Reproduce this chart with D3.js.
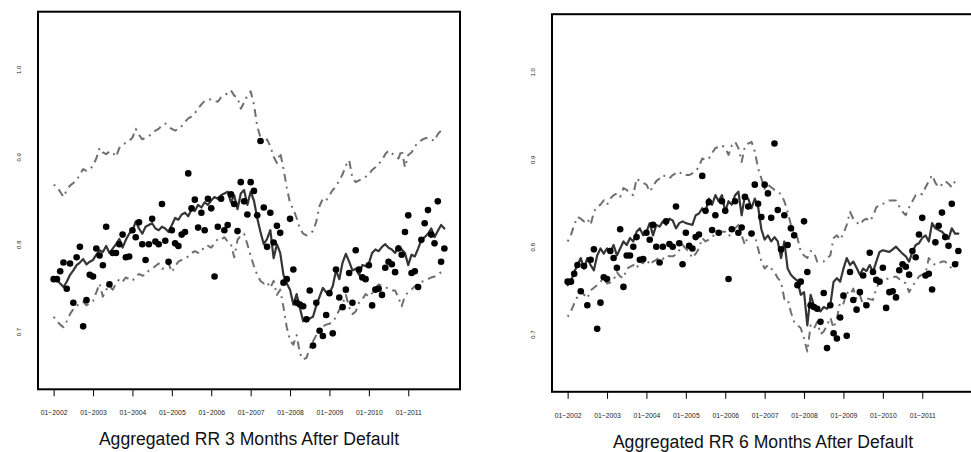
<!DOCTYPE html>
<html>
<head>
<meta charset="utf-8">
<script src="https://cdn.jsdelivr.net/npm/d3@7"></script>
<style>
    body { margin: 0; background: #fff; }
    svg { display: block; font-family: "Liberation Sans", Arial, Helvetica, sans-serif; }
</style>
</head>
<body>
<svg id="chart" width="971" height="452"></svg>
<script>
// months are counted from 01-2002 (index 0) to 12-2011 (index 119)
const xTickMonths = [0, 12, 24, 36, 48, 60, 72, 84, 96, 108];
const xTickLabels = ['01−2002', '01−2003', '01−2004', '01−2005', '01−2006',
                     '01−2007', '01−2008', '01−2009', '01−2010', '01−2011'];
const yTicks = [0.7, 0.8, 0.9, 1.0];
const yTickLabels = ['0.7', '0.8', '0.9', '1.0'];

// observed recovery rates (dots), same in both panels
const observedRR = [
    0.760, 0.760, 0.769, 0.779, 0.749, 0.778, 0.733, 0.785, 0.797, 0.706, 0.736, 0.765,
    0.763, 0.795, 0.787, 0.776, 0.820, 0.754, 0.790, 0.790, 0.800, 0.811, 0.785, 0.786,
    0.816, 0.808, 0.825, 0.800, 0.782, 0.800, 0.829, 0.803, 0.800, 0.846, 0.804, 0.780,
    0.816, 0.801, 0.798, 0.811, 0.814, 0.881, 0.841, 0.851, 0.819, 0.836, 0.816, 0.852,
    0.841, 0.763, 0.820, 0.852, 0.816, 0.822, 0.857, 0.846, 0.815, 0.871, 0.849, 0.834,
    0.871, 0.861, 0.833, 0.918, 0.842, 0.797, 0.836, 0.802, 0.821, 0.813, 0.756, 0.760,
    0.829, 0.771, 0.733, 0.731, 0.729, 0.714, 0.747, 0.684, 0.733, 0.701, 0.695, 0.719,
    0.744, 0.698, 0.771, 0.739, 0.728, 0.748, 0.767, 0.733, 0.793, 0.771, 0.762, 0.760,
    0.776, 0.730, 0.748, 0.749, 0.742, 0.773, 0.780, 0.777, 0.768, 0.795, 0.788, 0.814,
    0.833, 0.767, 0.769, 0.751, 0.805, 0.824, 0.839, 0.811, 0.801, 0.849, 0.780, 0.795
];

// 3 months after default
const model3M = [
    0.761, 0.759, 0.755, 0.751, 0.757, 0.765, 0.770, 0.776, 0.779, 0.783, 0.777, 0.780,
    0.782, 0.788, 0.793, 0.791, 0.798, 0.790, 0.795, 0.800, 0.806, 0.796, 0.805, 0.812,
    0.815, 0.826, 0.818, 0.812, 0.820, 0.822, 0.824, 0.818, 0.816, 0.820, 0.818, 0.814,
    0.822, 0.830, 0.828, 0.834, 0.836, 0.832, 0.840, 0.838, 0.845, 0.842, 0.848, 0.845,
    0.850, 0.854, 0.852, 0.856, 0.858, 0.860, 0.848, 0.856, 0.840, 0.858, 0.862, 0.845,
    0.860, 0.850, 0.830, 0.814, 0.800, 0.806, 0.816, 0.784, 0.800, 0.790, 0.765, 0.755,
    0.748, 0.731, 0.743, 0.727, 0.712, 0.713, 0.715, 0.717, 0.730, 0.740, 0.750, 0.745,
    0.744, 0.752, 0.770, 0.760, 0.779, 0.789, 0.780, 0.770, 0.772, 0.765, 0.776, 0.775,
    0.778, 0.790, 0.794, 0.792, 0.797, 0.800, 0.796, 0.794, 0.790, 0.798, 0.794, 0.790,
    0.776, 0.788, 0.786, 0.795, 0.805, 0.808, 0.812, 0.818, 0.808, 0.815, 0.822, 0.818
];
const upper3M = [
    0.868, 0.866, 0.860, 0.854, 0.862, 0.867, 0.870, 0.873, 0.880, 0.886, 0.884, 0.885,
    0.890, 0.898, 0.910, 0.905, 0.903, 0.906, 0.905, 0.900, 0.910, 0.914, 0.916, 0.918,
    0.922, 0.932, 0.925, 0.920, 0.922, 0.924, 0.926, 0.930, 0.932, 0.936, 0.938, 0.934,
    0.932, 0.930, 0.932, 0.935, 0.940, 0.944, 0.946, 0.950, 0.955, 0.960, 0.964, 0.965,
    0.966, 0.964, 0.963, 0.968, 0.970, 0.973, 0.976, 0.970, 0.968, 0.955, 0.962, 0.970,
    0.975, 0.960, 0.935, 0.922, 0.915, 0.920, 0.912, 0.900, 0.893, 0.905, 0.886, 0.865,
    0.847, 0.840, 0.830, 0.818, 0.812, 0.810, 0.812, 0.815, 0.826, 0.844, 0.852, 0.850,
    0.856, 0.862, 0.866, 0.873, 0.880, 0.890, 0.896, 0.876, 0.871, 0.873, 0.875, 0.877,
    0.880, 0.885, 0.888, 0.892, 0.896, 0.903, 0.907, 0.904, 0.901, 0.898, 0.908, 0.888,
    0.902, 0.905, 0.912, 0.916, 0.919, 0.921, 0.922, 0.920, 0.918, 0.926, 0.930, 0.933
];
const lower3M = [
    0.717, 0.712, 0.708, 0.705, 0.712, 0.720, 0.726, 0.729, 0.733, 0.734, 0.730, 0.733,
    0.735, 0.745, 0.755, 0.740, 0.748, 0.752, 0.748, 0.755, 0.760, 0.757, 0.762, 0.760,
    0.758, 0.763, 0.766, 0.764, 0.765, 0.770, 0.772, 0.775, 0.778, 0.772, 0.773, 0.778,
    0.768, 0.775, 0.780, 0.782, 0.784, 0.786, 0.790, 0.792, 0.790, 0.795, 0.794, 0.798,
    0.796, 0.801, 0.806, 0.805, 0.808, 0.803, 0.800, 0.785, 0.805, 0.810, 0.812, 0.800,
    0.787, 0.775, 0.765, 0.758, 0.755, 0.757, 0.750, 0.758, 0.742, 0.748, 0.728, 0.705,
    0.690, 0.685, 0.696, 0.675, 0.668, 0.670, 0.681, 0.689, 0.696, 0.704, 0.706, 0.708,
    0.709, 0.711, 0.717, 0.725, 0.732, 0.742, 0.728, 0.720, 0.723, 0.733, 0.737, 0.743,
    0.740, 0.744, 0.750, 0.754, 0.752, 0.751, 0.749, 0.747, 0.747, 0.739, 0.729, 0.741,
    0.745, 0.748, 0.752, 0.755, 0.757, 0.758, 0.760, 0.762, 0.763, 0.765, 0.768, 0.770
];

// 6 months after default
const model6M = [
    0.756, 0.760, 0.771, 0.779, 0.787, 0.775, 0.787, 0.779, 0.773, 0.790, 0.798, 0.792,
    0.798, 0.794, 0.802, 0.790, 0.798, 0.806, 0.802, 0.810, 0.806, 0.817, 0.821, 0.813,
    0.817, 0.827, 0.813, 0.825, 0.823, 0.829, 0.825, 0.832, 0.830, 0.821, 0.827, 0.829,
    0.827, 0.826, 0.825, 0.836, 0.838, 0.844, 0.840, 0.855, 0.848, 0.859, 0.852, 0.859,
    0.840, 0.852, 0.848, 0.859, 0.863, 0.836, 0.859, 0.855, 0.844, 0.855, 0.846, 0.820,
    0.808, 0.813, 0.806, 0.811, 0.806, 0.787, 0.806, 0.775, 0.768, 0.764, 0.761, 0.745,
    0.748, 0.710, 0.745, 0.733, 0.730, 0.726, 0.731, 0.729, 0.733, 0.760, 0.764, 0.760,
    0.775, 0.787, 0.779, 0.783, 0.776, 0.768, 0.775, 0.772, 0.779, 0.771, 0.783, 0.794,
    0.796, 0.795, 0.794, 0.797, 0.800, 0.796, 0.792, 0.789, 0.783, 0.794, 0.802, 0.804,
    0.810, 0.813, 0.806, 0.827, 0.821, 0.819, 0.817, 0.813, 0.809, 0.821, 0.815, 0.815
];
const upper6M = [
    0.806, 0.813, 0.825, 0.834, 0.832, 0.829, 0.832, 0.825, 0.840, 0.846, 0.848, 0.853,
    0.848, 0.855, 0.859, 0.861, 0.857, 0.867, 0.865, 0.861, 0.859, 0.878, 0.875, 0.873,
    0.871, 0.863, 0.869, 0.875, 0.878, 0.882, 0.880, 0.878, 0.882, 0.884, 0.886, 0.882,
    0.882, 0.882, 0.884, 0.886, 0.892, 0.901, 0.899, 0.901, 0.907, 0.913, 0.914, 0.916,
    0.913, 0.905, 0.916, 0.920, 0.913, 0.897, 0.915, 0.918, 0.920, 0.909, 0.890, 0.878,
    0.866, 0.871, 0.868, 0.865, 0.863, 0.860, 0.852, 0.840, 0.825, 0.815, 0.810, 0.794,
    0.790, 0.787, 0.795, 0.794, 0.783, 0.783, 0.783, 0.787, 0.790, 0.810, 0.813, 0.808,
    0.815, 0.825, 0.840, 0.832, 0.828, 0.825, 0.830, 0.832, 0.829, 0.835, 0.845, 0.848,
    0.849, 0.851, 0.853, 0.853, 0.853, 0.846, 0.840, 0.836, 0.845, 0.852, 0.859, 0.861,
    0.860, 0.868, 0.875, 0.882, 0.873, 0.868, 0.871, 0.875, 0.872, 0.868, 0.875, 0.876
];
const lower6M = [
    0.720, 0.726, 0.735, 0.743, 0.749, 0.745, 0.741, 0.750, 0.753, 0.756, 0.760, 0.764,
    0.758, 0.759, 0.762, 0.771, 0.766, 0.764, 0.775, 0.777, 0.779, 0.775, 0.783, 0.781,
    0.787, 0.779, 0.783, 0.785, 0.788, 0.786, 0.790, 0.789, 0.789, 0.791, 0.796, 0.802,
    0.798, 0.794, 0.787, 0.792, 0.798, 0.810, 0.806, 0.808, 0.811, 0.815, 0.817, 0.817,
    0.817, 0.812, 0.815, 0.821, 0.825, 0.813, 0.802, 0.813, 0.817, 0.813, 0.798, 0.783,
    0.775, 0.779, 0.775, 0.771, 0.764, 0.760, 0.740, 0.740, 0.725, 0.714, 0.710, 0.707,
    0.695, 0.680, 0.710, 0.706, 0.714, 0.700, 0.703, 0.710, 0.719, 0.707, 0.718, 0.737,
    0.735, 0.748, 0.745, 0.752, 0.740, 0.745, 0.733, 0.741, 0.740, 0.739, 0.752, 0.760,
    0.762, 0.763, 0.764, 0.765, 0.766, 0.763, 0.760, 0.758, 0.748, 0.755, 0.760, 0.766,
    0.768, 0.770, 0.787, 0.782, 0.779, 0.781, 0.783, 0.783, 0.779, 0.775, 0.779, 0.783
];

const panels = [
    { left: 38, top: 11.7, title: 'Aggregated RR 3 Months After Default', model: model3M, upper: upper3M, lower: lower3M },
    { left: 552, top: 14.2, title: 'Aggregated RR 6 Months After Default', model: model6M, upper: upper6M, lower: lower6M }
];
const panelWidth = 422;
const panelHeight = 377.6;

const svg = d3.select('#chart');

panels.forEach(p => drawPanel(p));

function drawPanel(p) {
    const g = svg.append('g')
        .attr('transform', `translate(${p.left},${p.top})`);

    // R-style 4% padding around 1..120 and ylim c(0.65, 1.05)
    const x = d3.scaleLinear()
        .domain([-4.76, 123.76])
        .range([0, panelWidth]);

    const y = d3.scaleLinear()
        .domain([0.634, 1.066])
        .range([panelHeight, 0]);

    const line = d3.line()
        .x((d, i) => x(i))
        .y(d => y(d));

    // confidence bands
    [p.upper, p.lower].forEach(band => {
        g.append('path')
            .datum(band)
            .attr('d', line)
            .attr('fill', 'none')
            .attr('stroke', '#6f6f6f')
            .attr('stroke-width', 2)
            .attr('stroke-dasharray', '2,5,8,5')
            .attr('stroke-linejoin', 'round');
    });

    // model line
    g.append('path')
        .datum(p.model)
        .attr('d', line)
        .attr('fill', 'none')
        .attr('stroke', '#353535')
        .attr('stroke-width', 2.2)
        .attr('stroke-linejoin', 'round')
        .attr('stroke-linecap', 'round');

    // observed
    g.selectAll('.obs')
        .data(observedRR)
        .enter()
        .append('circle')
        .attr('class', 'obs')
        .attr('cx', (d, i) => x(i))
        .attr('cy', d => y(d))
        .attr('r', 3.3)
        .attr('fill', '#000');

    // box
    g.append('rect')
        .attr('width', panelWidth)
        .attr('height', panelHeight)
        .attr('fill', 'none')
        .attr('stroke', '#000')
        .attr('stroke-width', 2);

    // X axis
    const xAxis = g.append('g')
        .attr('transform', `translate(0,${panelHeight})`)
        .call(d3.axisBottom(x)
            .tickValues(xTickMonths)
            .tickFormat((d, i) => xTickLabels[i])
            .tickSize(7));
    xAxis.select('.domain').remove();
    xAxis.selectAll('line').attr('stroke', '#000').attr('stroke-width', 1);
    xAxis.selectAll('text')
        .attr('y', 26)
        .attr('dy', null)
        .style('font-size', '6.8px')
        .style('fill', '#222');

    // Y axis: labels only, parallel to the axis
    const yAxis = g.append('g')
        .attr('transform', 'translate(-17,0)')
        .call(d3.axisLeft(y)
            .tickValues(yTicks)
            .tickFormat((d, i) => yTickLabels[i])
            .tickSize(0));
    yAxis.select('.domain').remove();
    yAxis.selectAll('text')
        .attr('x', 0)
        .attr('dy', null)
        .attr('text-anchor', 'middle')
        .attr('transform', 'rotate(-90)')
        .style('font-size', '6px')
        .style('fill', '#222');

    // title
    g.append('text')
        .attr('x', panelWidth / 2)
        .attr('y', panelHeight + 55.8)
        .attr('text-anchor', 'middle')
        .style('font-size', '17.6px')
        .style('fill', '#111')
        .text(p.title);
}
</script>
</body>
</html>
